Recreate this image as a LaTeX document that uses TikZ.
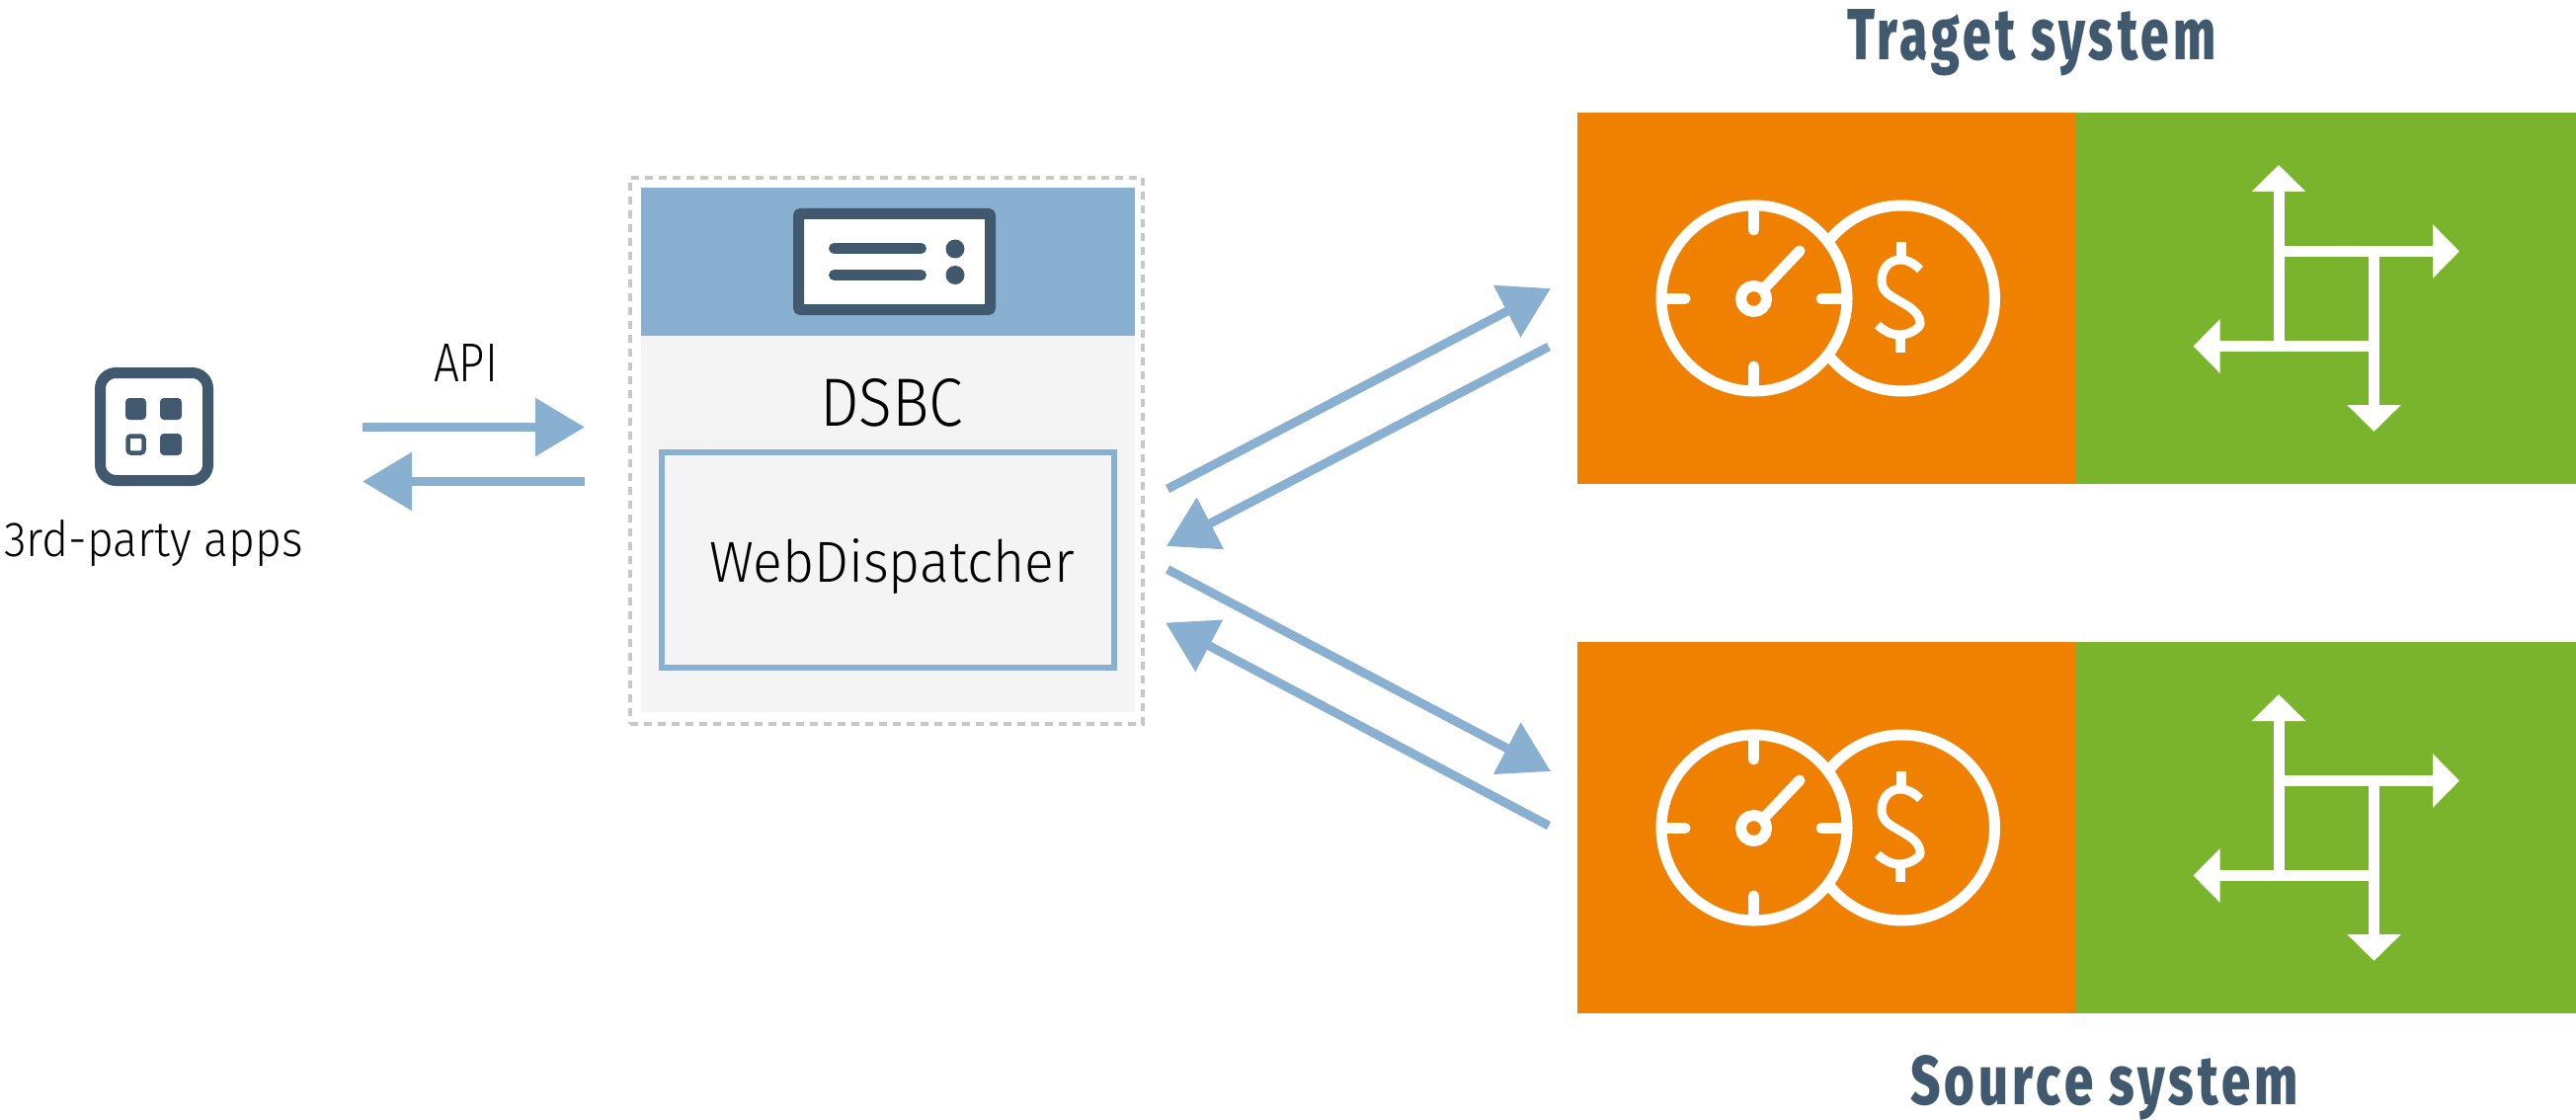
\documentclass[tikz,border=0pt]{standalone}
\usepackage{fontspec}
\usepackage{graphicx}
\setmainfont{Fira Sans Light}[FakeStretch=0.8]
\newfontfamily\heavyfont{Fira Sans ExtraBold}[FakeStretch=0.62,LetterSpace=5]
\usetikzlibrary{arrows.meta}
\definecolor{flow}{HTML}{89B0D1}
\definecolor{slate}{HTML}{41596E}
\definecolor{panel}{HTML}{F4F4F4}
\definecolor{dashgrey}{HTML}{C8C8C8}
\definecolor{orangebox}{HTML}{F08000}
\definecolor{greenbox}{HTML}{7AB32C}
\newcommand{\fitted}[3]{\resizebox{#1pt}{#2pt}{#3}}
\tikzset{
  x=1pt,y=-1pt,
  box/.style={inner sep=0,outer sep=0,anchor=north west,minimum width=#1},
  label text/.style={inner sep=0,outer sep=0,anchor=base west,text=black},
  title text/.style={inner sep=0,outer sep=0,anchor=base west,text=slate,font=\heavyfont},
  flowline/.style={draw=flow,line width=9pt,-{Triangle[length=50pt,width=57pt]}},
  whiteline/.style={draw=white,line width=11pt},
  wheel/.style={draw=white,line width=11pt,-{Triangle[length=27pt,width=53pt,fill=white]}},
  slateline/.style={draw=slate,line width=11pt},
}
\newcommand{\sysblock}[2]{%
\begin{scope}[yshift=#2]
  \node[box=504pt,minimum height=376pt,fill=orangebox] (orange#1) at (1597,114) {};
  \node[box=507pt,minimum height=376pt,fill=greenbox] (green#1) at (2101,114) {};
  \draw[whiteline] (1925.5,302) circle[radius=94];
  \draw[whiteline,fill=orangebox] (1776,302) circle[radius=94];
  \draw[whiteline,line cap=round] (1775.5,208) -- (1775.5,233);
  \draw[whiteline,line cap=round] (1775.5,396) -- (1775.5,371);
  \draw[whiteline,line cap=round] (1682,302.5) -- (1706,302.5);
  \draw[whiteline,line cap=round] (1870,302.5) -- (1844,302.5);
  \draw[whiteline] (1775.5,302.5) circle[radius=13];
  \draw[whiteline,line cap=round] (1786,292) -- (1822,254);
  \draw[draw=white,line width=10pt] (1925,245) -- (1925,262);
  \draw[draw=white,line width=10pt] (1924,340) -- (1924,357);
  \draw[draw=white,line width=9pt] (1944,273) .. controls (1937,266) and (1931,263) .. (1924,263)
     .. controls (1913,263) and (1905,272) .. (1905,284)
     .. controls (1905,296) and (1915,300) .. (1925,306)
     .. controls (1936,312) and (1944,318) .. (1944,328)
     .. controls (1944,331) and (1935,339) .. (1923,339)
     .. controls (1915,339) and (1907,335) .. (1901,329);
  \draw[wheel] (2307,350.5) -- (2307,167);
  \draw[wheel] (2307,254.5) -- (2490,254.5);
  \draw[wheel] (2403.5,254.5) -- (2403.5,437);
  \draw[wheel] (2403.5,350.5) -- (2220.5,350.5);
\end{scope}}
\begin{document}
\begin{tikzpicture}
\useasboundingbox (0,0) rectangle (2608,1134);
\fill[white] (0,0) rectangle (2608,1134);
% apps icon
\node[inner sep=0,outer sep=0,minimum width=109pt,minimum height=109pt,rounded corners=16pt,draw=slate,line width=11pt] (apps) at (156,432) {};
\fill[slate,rounded corners=4pt] (127,403) rectangle (148,425);
\fill[slate,rounded corners=4pt] (162,403) rectangle (184,425);
\fill[slate,rounded corners=4pt] (162,439) rectangle (184,461);
\draw[slate,line width=4.5pt,rounded corners=3pt] (129.5,441.5) rectangle (145.5,458.5);
\node[label text] (appslabel) at (4,563) {\fitted{303}{37}{3rd-party apps}};
\node[label text] (api) at (439,386) {\fitted{65}{38}{API}};
% API arrows
\coordinate (apiL1) at (367,432.5); \coordinate (apiR1) at (592,432.5);
\coordinate (apiL2) at (367,487.5); \coordinate (apiR2) at (592,487.5);
\draw[flowline] (apiL1) -- (apiR1);
\draw[flowline] (apiR2) -- (apiL2);
% DSBC
\node[box=519pt,minimum height=553pt,draw=dashgrey,line width=3.5pt,dash pattern=on 8pt off 6pt] (outer) at (638,180) {};
\node[box=500pt,minimum height=531pt,fill=panel] (panelbox) at (649,190) {};
\node[box=500pt,minimum height=150pt,fill=flow] (header) at (649,190) {};
\node[box=194pt,minimum height=97pt,draw=slate,fill=white,line width=11pt,rounded corners=2pt] (server) at (808.5,216.5) {};
\draw[slateline,line cap=round] (844.5,251.5) -- (932.5,251.5);
\draw[slateline,line cap=round] (844.5,278.5) -- (932.5,278.5);
\fill[slate] (967,252) circle[radius=9.5];
\fill[slate] (967,278.5) circle[radius=9.5];
\node[label text] (dsbc) at (830,431) {\fitted{145}{48}{DSBC}};
\node[box=458pt,minimum height=218pt,draw=flow,line width=6pt] (wd) at (670,458) {};
\node[label text] (wdlabel) at (718,589) {\fitted{370}{44}{WebDispatcher}};
% systems
\sysblock{A}{0pt}
\sysblock{B}{-536pt}
\node[title text] (ttitle) at (1870,61) {\fitted{373}{51}{Traget system}};
\node[title text] (stitle) at (1934,1118) {\fitted{393}{50}{Source system}};
% connectors
\coordinate (a1s) at (1182,495); \coordinate (a1e) at (1570,292);
\coordinate (a2s) at (1568,351); \coordinate (a2e) at (1181,553);
\coordinate (a3s) at (1182,576.5); \coordinate (a3e) at (1570,781);
\coordinate (a4s) at (1568,836); \coordinate (a4e) at (1180,630.5);
\draw[flowline] (a1s) -- (a1e);
\draw[flowline] (a2s) -- (a2e);
\draw[flowline] (a3s) -- (a3e);
\draw[flowline] (a4s) -- (a4e);
\end{tikzpicture}
\end{document}
